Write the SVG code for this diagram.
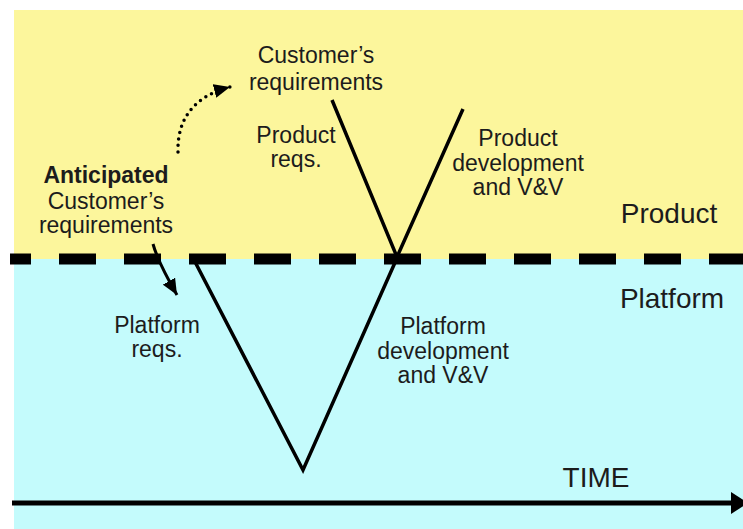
<svg xmlns="http://www.w3.org/2000/svg" width="743" height="529" viewBox="0 0 743 529">
  <defs>
    <style>
      text { font-family: "Liberation Sans", Arial, sans-serif; fill: #1c1c1c; text-anchor: middle; }
      .t { font-size: 23px; }
      .big { font-size: 28px; }
      .b { font-weight: bold; }
      .v { fill: none; stroke: #000; stroke-width: 3.5; stroke-linejoin: miter; }
    </style>
    <marker id="ah" markerUnits="userSpaceOnUse" viewBox="0 0 16 14" refX="16" refY="7" markerWidth="16" markerHeight="14" orient="auto">
      <path d="M0,0 L16,7 L0,14 z" fill="#000"/>
    </marker>
  </defs>

  <rect x="0" y="0" width="743" height="529" fill="#ffffff"/>
  <g id="product-zone">
    <rect x="14" y="10" width="729" height="249" fill="#fcf69c"/>
  </g>
  <g id="platform-zone">
    <rect x="14" y="259" width="729" height="270" fill="#c4fbfc"/>
  </g>

  <g id="connectors">
    <line id="boundary" x1="10" y1="259" x2="743" y2="259" stroke="#000" stroke-width="11" stroke-dasharray="37 28" stroke-dashoffset="16"/>
    <polyline id="product-v" class="v" points="332,100 397,257 463,109"/>
    <polyline id="platform-v" class="v" points="193,258 303,470 397,258"/>
    <path id="anticipated-to-customer" d="M178,152 C177,118 195,96 230,87" fill="none" stroke="#000" stroke-width="3.5" stroke-linecap="round" stroke-dasharray="0 6.5" marker-end="url(#ah)"/>
    <path id="anticipated-to-platform" d="M153,244 Q158,262 177,295" fill="none" stroke="#000" stroke-width="3" marker-end="url(#ah)"/>
    <g id="time-axis">
      <line x1="12" y1="503" x2="736" y2="503" stroke="#000" stroke-width="5"/>
      <polygon points="731,492 748,503 731,514" fill="#000"/>
    </g>
  </g>

  <g id="customer-requirements">
    <text class="t" x="316" y="63">Customer’s</text>
    <text class="t" x="316" y="90">requirements</text>
  </g>
  <g id="product-reqs">
    <text class="t" x="296" y="143">Product</text>
    <text class="t" x="296" y="167">reqs.</text>
  </g>
  <g id="product-dev">
    <text class="t" x="518" y="146">Product</text>
    <text class="t" x="518" y="171">development</text>
    <text class="t" x="518" y="195">and V&amp;V</text>
  </g>
  <g id="anticipated">
    <text class="t b" x="106" y="183">Anticipated</text>
    <text class="t" x="106" y="209">Customer’s</text>
    <text class="t" x="106" y="233">requirements</text>
  </g>
  <g id="product-label">
    <text class="big" x="669" y="223">Product</text>
  </g>
  <g id="platform-label">
    <text class="big" x="672" y="308">Platform</text>
  </g>
  <g id="platform-reqs">
    <text class="t" x="157" y="333">Platform</text>
    <text class="t" x="157" y="357">reqs.</text>
  </g>
  <g id="platform-dev">
    <text class="t" x="443" y="334">Platform</text>
    <text class="t" x="443" y="359">development</text>
    <text class="t" x="443" y="383">and V&amp;V</text>
  </g>
  <g id="time-label">
    <text class="big" x="596" y="487">TIME</text>
  </g>
</svg>
